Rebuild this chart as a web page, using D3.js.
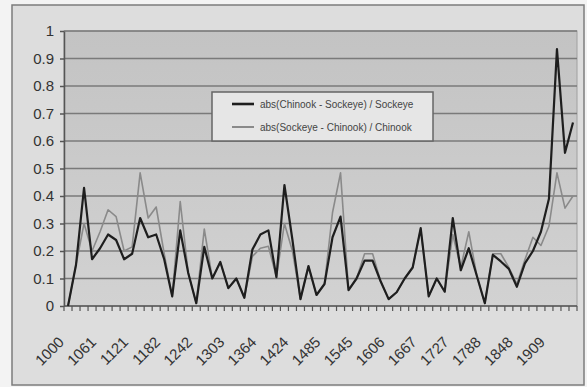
<!DOCTYPE html>
<html lang="en">
<head>
<meta charset="UTF-8">
<title>Chinook / Sockeye</title>
<script src="https://d3js.org/d3.v7.min.js"></script>
<style>
  body { margin: 0; background: #f3f3f3; }
  svg { display: block; font-family: "Liberation Sans", Arial, sans-serif; }
</style>
</head>
<body>
<svg></svg>
<script>
  // categories (years), tick labels every 4th one
  const categories = [
    1000, 1015, 1030, 1045, 1061, 1076, 1091, 1106, 1121, 1136, 1152, 1167, 1182, 1197, 1212, 1227,
    1242, 1258, 1273, 1288, 1303, 1318, 1333, 1348, 1364, 1379, 1394, 1409, 1424, 1439, 1455, 1470,
    1485, 1500, 1515, 1530, 1545, 1561, 1576, 1591, 1606, 1621, 1636, 1652, 1667, 1682, 1697, 1712,
    1727, 1742, 1758, 1773, 1788, 1803, 1818, 1833, 1848, 1864, 1879, 1894, 1909, 1924, 1939, 1955
  ]

  // abs(Chinook - Sockeye) / Sockeye  (dark line)
  const chinookSockeye = [
    0, 0.15, 0.43, 0.17, 0.21, 0.26, 0.24, 0.17, 0.19, 0.32, 0.25, 0.26, 0.17, 0.035, 0.275, 0.12,
    0.01, 0.215, 0.10, 0.16, 0.065, 0.10, 0.03, 0.205, 0.26, 0.275, 0.105, 0.44, 0.24, 0.025, 0.145, 0.04,
    0.08, 0.25, 0.325, 0.058, 0.10, 0.165, 0.165, 0.09, 0.025, 0.05, 0.10, 0.14, 0.283, 0.035, 0.10, 0.052,
    0.32, 0.13, 0.21, 0.11, 0.01, 0.186, 0.162, 0.135, 0.07, 0.155, 0.20, 0.27, 0.39, 0.934, 0.557, 0.667
  ]

  // abs(Sockeye - Chinook) / Chinook  (grey line)
  const sockeyeChinook = [
    0, 0.15, 0.30, 0.20, 0.27, 0.35, 0.325, 0.20, 0.215, 0.484, 0.32, 0.36, 0.19, 0.035, 0.38, 0.12,
    0.01, 0.28, 0.10, 0.16, 0.065, 0.10, 0.03, 0.18, 0.21, 0.217, 0.105, 0.30, 0.20, 0.025, 0.145, 0.04,
    0.08, 0.34, 0.484, 0.058, 0.10, 0.19, 0.19, 0.09, 0.025, 0.05, 0.10, 0.14, 0.28, 0.035, 0.10, 0.052,
    0.26, 0.14, 0.27, 0.11, 0.01, 0.19, 0.19, 0.14, 0.08, 0.168, 0.25, 0.22, 0.29, 0.484, 0.356, 0.40
  ]

  const yTicks = [0, 0.1, 0.2, 0.3, 0.4, 0.5, 0.6, 0.7, 0.8, 0.9, 1]

  const series = [
    { name: 'abs(Chinook - Sockeye) / Sockeye', values: chinookSockeye, color: '#1e1e1e', width: 2.2 },
    { name: 'abs(Sockeye - Chinook) / Chinook', values: sockeyeChinook, color: '#8a8a8a', width: 1.6 }
  ]

  const width = 587
  const height = 387
  const plot = { left: 64, top: 31, right: 577, bottom: 306 }

  const svg = d3.select('svg')
    .attr('width', width)
    .attr('height', height)

  const defs = svg.append('defs')
  const grad = defs.append('linearGradient')
    .attr('id', 'plotFill')
    .attr('x1', 0).attr('y1', 0).attr('x2', 0).attr('y2', 1)
  grad.append('stop').attr('offset', '0%').attr('stop-color', '#c3c3c3')
  grad.append('stop').attr('offset', '100%').attr('stop-color', '#d2d2d2')

  // chart area
  svg.append('rect')
    .attr('x', 12).attr('y', 5)
    .attr('width', 572).attr('height', 380)
    .attr('fill', '#dddddd')
    .attr('stroke', '#7c7c7c')
    .attr('stroke-width', 1.5)

  // plot area
  svg.append('rect')
    .attr('x', plot.left).attr('y', plot.top)
    .attr('width', plot.right - plot.left).attr('height', plot.bottom - plot.top)
    .attr('fill', 'url(#plotFill)')
    .attr('stroke', '#a0a0a0')

  const x = d3.scalePoint()
    .domain(d3.range(categories.length))
    .range([plot.left, plot.right])
    .padding(0.5)

  const band = d3.scaleBand()
    .domain(d3.range(categories.length))
    .range([plot.left, plot.right])

  const y = d3.scaleLinear()
    .domain([0, 1])
    .range([plot.bottom, plot.top])

  // gridlines
  svg.append('g')
    .selectAll('line')
    .data(yTicks.filter(d => d > 0))
    .join('line')
    .attr('x1', plot.left).attr('x2', plot.right)
    .attr('y1', d => y(d)).attr('y2', d => y(d))
    .attr('stroke', '#7a7a7a')
    .attr('stroke-width', 1.5)

  // y axis
  const yAxis = svg.append('g')
    .attr('transform', `translate(${plot.left},0)`)
    .call(d3.axisLeft(y).tickValues(yTicks).tickSize(4).tickSizeOuter(0).tickPadding(6)
      .tickFormat(d => d3.format('')(+d.toFixed(1))))
  yAxis.select('.domain').attr('stroke', '#555').attr('stroke-width', 1.5)
  yAxis.selectAll('.tick line').attr('stroke', '#555').attr('stroke-width', 1.5)
  yAxis.selectAll('text')
    .attr('fill', '#333')
    .style('font-size', '15px')

  // x axis line + tick marks at category boundaries
  const xAxis = svg.append('g')
  xAxis.append('line')
    .attr('x1', plot.left).attr('x2', plot.right)
    .attr('y1', plot.bottom).attr('y2', plot.bottom)
    .attr('stroke', '#555').attr('stroke-width', 1.5)
  xAxis.selectAll('.tk')
    .data(d3.range(categories.length + 1))
    .join('line')
    .attr('class', 'tk')
    .attr('x1', i => plot.left + i * band.step())
    .attr('x2', i => plot.left + i * band.step())
    .attr('y1', plot.bottom).attr('y2', plot.bottom + 5)
    .attr('stroke', '#555').attr('stroke-width', 1.2)

  xAxis.selectAll('text')
    .data(d3.range(categories.length).filter(i => i % 4 === 0))
    .join('text')
    .attr('transform', i => `translate(${x(i) - 3},${plot.bottom + 37}) rotate(-45)`)
    .attr('text-anchor', 'end')
    .attr('fill', '#333')
    .style('font-size', '15px')
    .text(i => categories[i])

  // lines (grey first, dark on top)
  const line = d3.line()
    .x((d, i) => x(i))
    .y(d => y(d))

  svg.append('g')
    .selectAll('path')
    .data(series.slice().reverse())
    .join('path')
    .attr('d', d => line(d.values))
    .attr('fill', 'none')
    .attr('stroke', d => d.color)
    .attr('stroke-width', d => d.width)
    .attr('stroke-linejoin', 'round')

  // legend
  const legend = svg.append('g').attr('transform', 'translate(212,92)')
  legend.append('rect')
    .attr('width', 221).attr('height', 49)
    .attr('fill', '#e6e6e6')
    .attr('stroke', '#666')
    .attr('stroke-width', 1.5)

  const item = legend.selectAll('g')
    .data(series)
    .join('g')
    .attr('transform', (d, i) => `translate(0,${12 + i * 23})`)
  item.append('line')
    .attr('x1', 20).attr('x2', 42)
    .attr('stroke', d => d.color)
    .attr('stroke-width', d => d.width + 0.4)
  item.append('text')
    .attr('x', 48)
    .attr('dy', '0.35em')
    .attr('fill', '#444')
    .style('font-size', '10px')
    .text(d => d.name)
</script>
</body>
</html>
